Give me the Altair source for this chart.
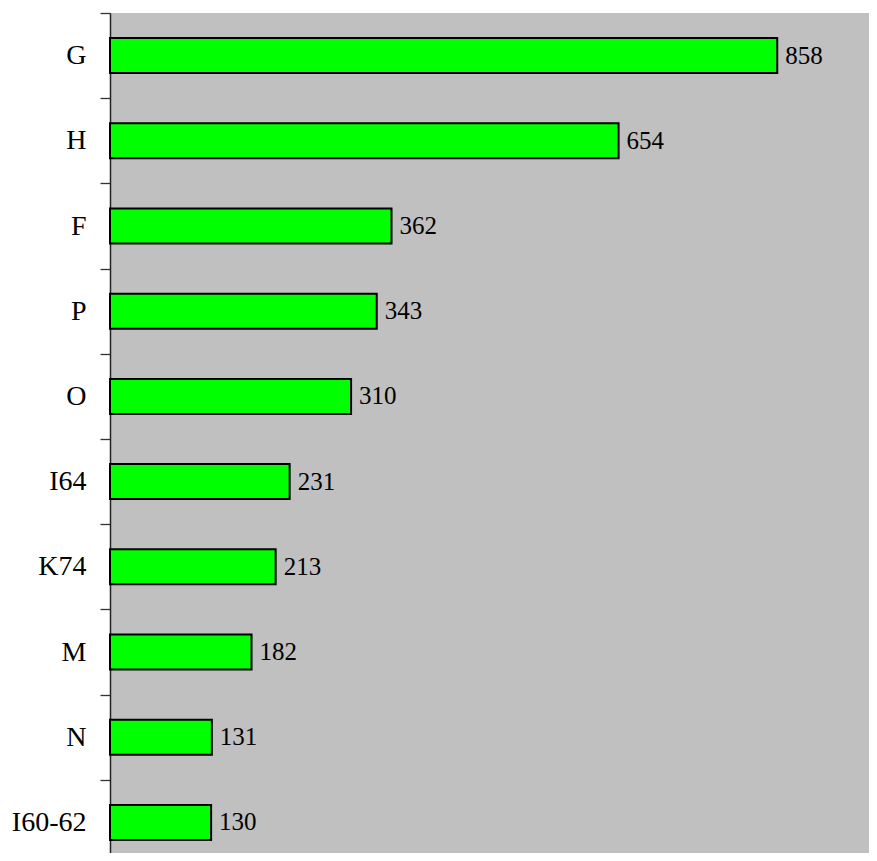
import altair as alt
import pandas as pd

categories = ["G", "H", "F", "P", "O", "I64", "K74", "M", "N", "I60-62"]
values = [858, 654, 362, 343, 310, 231, 213, 182, 131, 130]

df = pd.DataFrame({"cat": categories, "val": values})

y_enc = alt.Y(
    "cat:N",
    sort=categories,
    scale=alt.Scale(paddingInner=0, paddingOuter=0),
    axis=alt.Axis(
        title=None,
        tickBand="extent",
        labelFont="Liberation Serif",
        labelFontSize=28,
        labelColor="black",
        labelPadding=14,
        tickSize=10,
        tickColor="#333333",
        tickWidth=1.3,
        domainColor="#222222",
        domainWidth=1.5,
        grid=False,
    ),
)
x_enc = alt.X("val:Q", scale=alt.Scale(domain=[0, 976], nice=False), axis=None)

bars = alt.Chart(df).mark_bar(
    size=35, color="#00FF00", stroke="black", strokeWidth=2
).encode(x=x_enc, y=y_enc)

labels = alt.Chart(df).mark_text(
    align="left", baseline="middle", dx=8, font="Liberation Serif",
    fontSize=25, color="black"
).encode(x=x_enc, y=y_enc, text="val:Q")

chart = (bars + labels).properties(
    width=759, height=852,
    autosize=alt.AutoSizeParams(type="none"),
    padding={"left": 102, "top": 5, "right": 0, "bottom": -12},
).configure_view(fill="#C0C0C0", stroke=None)

chart.save("out.html", embed_options={"renderer": "svg", "actions": False})
